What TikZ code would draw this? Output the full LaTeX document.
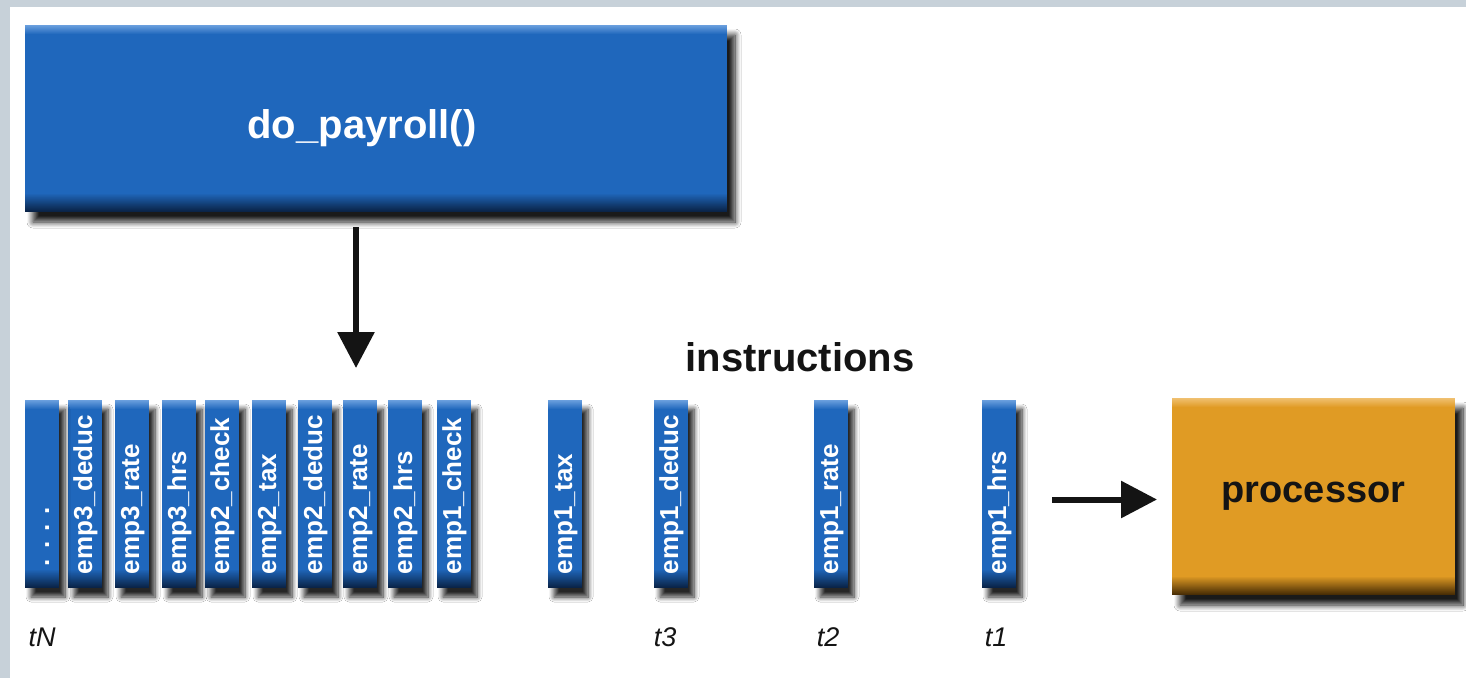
\documentclass[tikz,border=0pt]{standalone}
\usepackage{fontspec}
\setmainfont{Liberation Sans}
\usetikzlibrary{arrows.meta,shadows.blur}
\definecolor{frame}{HTML}{C7D1D9}
\definecolor{bluemain}{HTML}{1F67BC}
\definecolor{bluedark}{HTML}{0A2448}
\definecolor{bluelight}{HTML}{6A9FDE}
\definecolor{orangemain}{HTML}{E09B24}
\definecolor{orangedark}{HTML}{4A2E05}
\definecolor{orangelight}{HTML}{F0C070}
\definecolor{labelink}{HTML}{141414}
\begin{document}
\begin{tikzpicture}[x=1pt,y=-1pt,
  every node/.style={inner sep=0pt,outer sep=0pt},
  bevel/.style n args={3}{fill=#1,draw=none,
    path picture={
      \foreach \i in {0,...,17}{
        \pgfmathtruncatemacro\pp{\i*100/18}
        \fill[#1!\pp!#2] ([yshift=\i pt]path picture bounding box.south west)
          rectangle ([yshift=\i pt+1.3pt]path picture bounding box.south east);
      }
      \foreach \i in {0,...,8}{
        \pgfmathtruncatemacro\pp{\i*100/9}
        \fill[#1!\pp!#3] ([yshift=-\i pt]path picture bounding box.north west)
          rectangle ([yshift=-\i pt-1.3pt]path picture bounding box.north east);
      }
    }},
  softshadow/.style={blur shadow={shadow xshift=8pt,shadow yshift=-10pt,
    shadow blur radius=6pt,shadow opacity=90,shadow blur steps=10}},
  bigbox/.style={bevel={bluemain}{bluedark}{bluelight},softshadow,anchor=north west},
  procbox/.style={bevel={orangemain}{orangedark}{orangelight},softshadow,anchor=north west,
    font=\fontsize{38}{44}\selectfont\bfseries,text=labelink},
  bar/.style={bevel={bluemain}{bluedark}{bluelight},
    blur shadow={shadow xshift=6pt,shadow yshift=-9pt,shadow blur radius=5pt,shadow opacity=85,shadow blur steps=8},
    anchor=north west,minimum width=34pt,minimum height=188pt},
  bartext/.style={rotate=90,anchor=west,text=white,font=\fontsize{26}{30}\selectfont\bfseries,
    text height=19pt,text depth=5pt},
  boxtext/.style={text=white,font=\fontsize{40}{46}\selectfont\bfseries},
  heading/.style={text=labelink,font=\fontsize{40}{46}\selectfont\bfseries},
  tlabel/.style={text=labelink,font=\fontsize{27}{32}\selectfont\itshape},
  bigarrow/.style={line width=6pt,-{Triangle[length=36pt,width=36pt]},labelink}
]
\path[use as bounding box] (0,0) rectangle (1466,678);
\fill[white] (0,0) rectangle (1466,678);
\fill[frame] (0,0) rectangle (10,678);
\fill[frame] (0,0) rectangle (1466,7);

% main function box
\node[bigbox,minimum width=702pt,minimum height=187pt] (pay) at (25,25) {};
\node[boxtext] (payt) at (362,128) {do\_payroll()};

% instruction bars
\foreach \x/\t/\n in {68/emp3\_deduc/b2,115/emp3\_rate/b3,162/emp3\_hrs/b4,
    205/emp2\_check/b5,252/emp2\_tax/b6,298/emp2\_deduc/b7,343/emp2\_rate/b8,
    388/emp2\_hrs/b9,437/emp1\_check/b10,548/emp1\_tax/b11,654/emp1\_deduc/b12,
    814/emp1\_rate/b13,982/emp1\_hrs/b14}{
  \node[bar] (\n) at (\x,400) {};
  \node[bartext] (\n t) at ([yshift=14pt]\n.south) {\t};
}
\node[bar] (b1) at (25,400) {};
\node[bartext] (b1t) at ([yshift=22pt]b1.south) {.\hspace{10pt}.\hspace{10pt}.\hspace{10pt}.};

\node[heading] (instr) at (800,357) {instructions};

% processor
\node[procbox,minimum width=283pt,minimum height=197pt] (proc) at (1172,398) {processor};

% time labels
\node[tlabel] (tN) at (42,637) {tN};
\node[tlabel] (t3) at (665,637) {t3};
\node[tlabel] (t2) at (828,637) {t2};
\node[tlabel] (t1) at (996,637) {t1};

% arrows
\draw[bigarrow,shorten <=15pt,shorten >=32pt] ([xshift=-4pt]pay.south -| b8.north) -- ([xshift=-4pt]b8.north);
\draw[bigarrow,shorten <=36pt,shorten >=15pt] ([yshift=-3pt]b14.east |- proc.west) -- ([yshift=-3pt]proc.west);
\end{tikzpicture}
\end{document}
